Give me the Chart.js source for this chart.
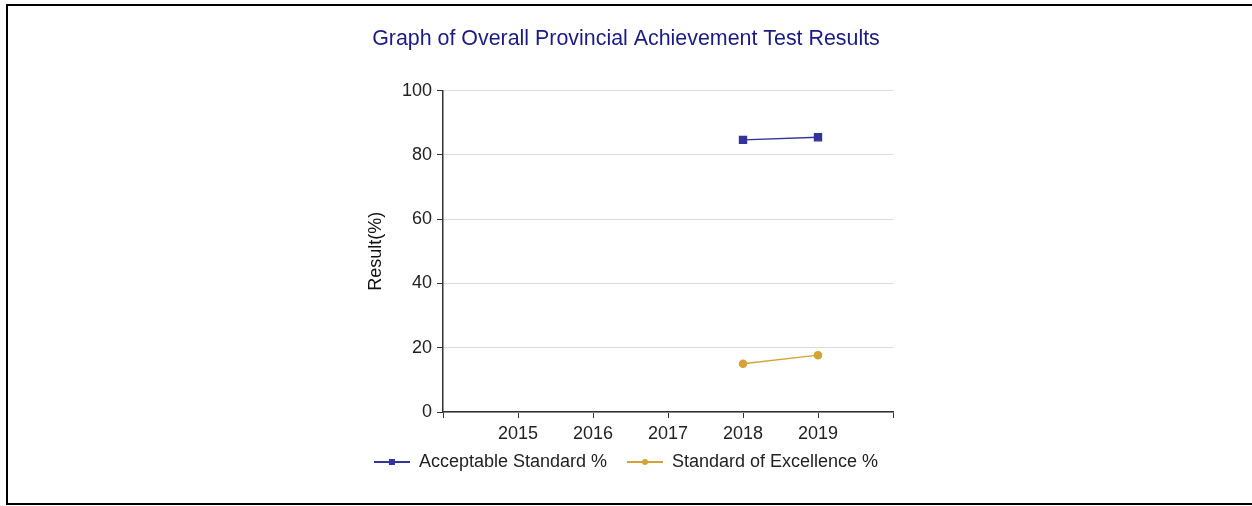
<!DOCTYPE html>
<html>
<head>
<meta charset="utf-8">
<script src="https://cdn.jsdelivr.net/npm/chart.js@4/dist/chart.umd.min.js"></script>
<style>
  html, body { margin: 0; padding: 0; background: #fff; }
  #frame {
    position: absolute; left: 6px; top: 4px; width: 1260px; height: 497px;
    border-left: 2px solid #000; border-top: 2px solid #000; border-bottom: 2px solid #000;
  }
  #wrap { position: absolute; left: 0; top: 0; width: 1252px; height: 506px; }
</style>
</head>
<body>
<div id="frame"></div>
<div id="wrap"><canvas id="chart"></canvas></div>
<script>
// chart data
const years = [2015, 2016, 2017, 2018, 2019];
const acceptableStandard = [null, null, null, 84.7, 85.5];
const standardOfExcellence = [null, null, null, 15.0, 17.7];
const yTicks = [0, 20, 40, 60, 80, 100];

const BLUE = '#33339c';
const GOLD = '#d6a236';
const FONT = 'Arial, "Liberation Sans", sans-serif';

// legend swatch: short line with marker in the middle
function legendSwatch(color, shape) {
  const c = document.createElement('canvas');
  c.width = 36; c.height = 10;
  const g = c.getContext('2d');
  g.strokeStyle = color;
  g.lineWidth = 2;
  g.beginPath(); g.moveTo(0, 5); g.lineTo(36, 5); g.stroke();
  g.fillStyle = color;
  if (shape === 'rect') {
    g.fillRect(15, 2, 6, 6);
  } else {
    g.beginPath(); g.arc(18, 5, 3, 0, Math.PI * 2); g.fill();
  }
  return c;
}

// pull the legend a bit closer to the x axis labels
const legendNudge = {
  id: 'legendNudge',
  afterLayout(chart) {
    const lg = chart.legend;
    if (lg) { lg.top -= 15; lg.bottom -= 15; }
  }
};

const toPoints = values => years.map((yr, i) => ({ x: yr, y: values[i] }));

const ctx = document.getElementById('chart').getContext('2d');

new Chart(ctx, {
  type: 'line',
  plugins: [legendNudge],
  data: {
    datasets: [
      {
        label: 'Acceptable Standard %',
        data: toPoints(acceptableStandard),
        borderColor: BLUE,
        backgroundColor: BLUE,
        borderWidth: 1.3,
        pointStyle: 'rect',
        pointRadius: 5,
        legendSwatch: legendSwatch(BLUE, 'rect')
      },
      {
        label: 'Standard of Excellence %',
        data: toPoints(standardOfExcellence),
        borderColor: GOLD,
        backgroundColor: GOLD,
        borderWidth: 1.5,
        pointStyle: 'circle',
        pointRadius: 3.5,
        legendSwatch: legendSwatch(GOLD, 'circle')
      }
    ]
  },
  options: {
    responsive: true,
    maintainAspectRatio: false,
    animation: false,
    layout: { padding: { left: 0, right: 0, top: 0, bottom: 10 } },
    plugins: {
      title: {
        display: true,
        text: 'Graph of Overall Provincial Achievement Test Results',
        color: '#1b1b86',
        font: { size: 21.4, weight: 'normal', family: FONT },
        padding: { top: 26, bottom: 39 }
      },
      legend: {
        position: 'bottom',
        labels: {
          usePointStyle: true,
          pointStyleWidth: 36,
          padding: 20,
          color: '#222',
          font: { size: 18, family: FONT },
          generateLabels: function (chart) {
            const items = Chart.defaults.plugins.legend.labels.generateLabels(chart);
            items.forEach(item => {
              item.pointStyle = chart.data.datasets[item.datasetIndex].legendSwatch;
            });
            return items;
          }
        }
      },
      tooltip: { enabled: false }
    },
    scales: {
      x: {
        type: 'linear',
        min: 2014,
        max: 2020,
        afterFit: scale => { scale.height = 36; },
        ticks: {
          stepSize: 1,
          padding: 5,
          color: '#222',
          font: { size: 18, family: FONT },
          callback: v => (years.includes(v) ? String(v) : '')
        },
        grid: { drawOnChartArea: false, tickLength: 6, color: '#333', tickColor: '#333' },
        border: { color: '#333', width: 1.5 }
      },
      y: {
        min: 0,
        max: 100,
        afterFit: scale => { scale.width = 443; },
        afterBuildTicks: scale => { scale.ticks = yTicks.map(v => ({ value: v })); },
        ticks: {
          padding: 5,
          color: '#222',
          font: { size: 18, family: FONT }
        },
        grid: { color: '#dcdcdc', tickColor: '#333', tickLength: 6 },
        border: { color: '#333', width: 1.5 },
        title: {
          display: true,
          text: 'Result(%)',
          color: '#111',
          font: { size: 18, family: FONT },
          padding: { top: 365, bottom: 0 }
        }
      },
      // empty right-hand margin axis, keeps the plot area narrow like the original
      rightMargin: {
        type: 'linear',
        position: 'right',
        afterFit: scale => { scale.width = 359; },
        ticks: { display: false },
        grid: { display: false },
        border: { display: false }
      }
    }
  }
});
</script>
</body>
</html>
